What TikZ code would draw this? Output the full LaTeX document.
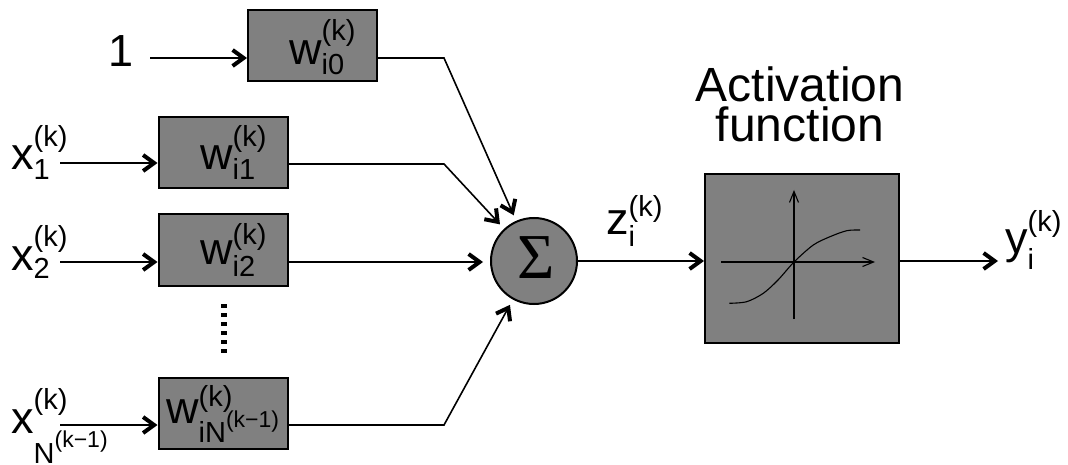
\documentclass[tikz,border=0pt]{standalone}
\usepackage{fontspec}
\setmainfont{Liberation Sans}
\newfontfamily\sigfont{Liberation Serif}
\usetikzlibrary{arrows.meta}
\newdimen\lblw
\newcommand\fA{\fontsize{45}{50}\selectfont}
\newcommand\fB{\fontsize{29}{32}\selectfont}
\newcommand\fC{\fontsize{23}{26}\selectfont}
% base, sub, sup, sub drop, sup raise
\newcommand\sublab[5]{\mbox{#1\setbox0\hbox{\fB #2}\setbox2\hbox{\fB #3}\lblw=\wd0 \ifdim\wd2>\lblw \lblw=\wd2 \fi\rlap{\lower#4pt\box0}\rlap{\raise#5pt\box2}\hspace{\lblw}}}
\begin{document}
\begin{tikzpicture}[x=1pt,y=-1pt,
  wbox/.style={draw=black,line width=2pt,fill=gray,minimum width=129pt,minimum height=71pt,inner sep=0pt},
  labeltext/.style={anchor=base west,inner sep=0pt,font=\fA},
  conn/.style={line width=1.6pt},
  arr/.style={conn,-{Straight Barb[length=11pt,width=16pt,line width=4pt]}},
  axis/.style={line width=1.1pt,-{Straight Barb[length=11pt,width=9pt,line width=1.1pt]}}]
\useasboundingbox (0,0) rectangle (1068,465);

% boxes
\node[wbox] (w0) at (312.5,45.5) {};
\node[wbox] (w1) at (223,152.5) {};
\node[wbox] (w2) at (223,250) {};
\node[wbox] (wN) at (223,413.5) {};
\node[draw=black,line width=2pt,fill=gray,circle,minimum size=86pt,inner sep=0pt] (sum) at (534,261) {};
\node[draw=black,line width=2pt,fill=gray,minimum width=194pt,minimum height=169pt,inner sep=0pt] (act) at (802,258.5) {};

% coordinates
\coordinate (s0) at (150,58);
\coordinate (s1) at (60,163);
\coordinate (s2) at (60,262);
\coordinate (sN) at (60,425);
\coordinate (b0) at (444,58);
\coordinate (b1) at (444,164);
\coordinate (bN) at (444,425);
\coordinate (yend) at (998,261);

% input arrows
\draw[arr] (s0) -- (s0 -| w0.west);
\draw[arr] (s1) -- (s1 -| w1.west);
\draw[arr] (s2) -- (s2 -| w2.west);
\draw[arr] (sN) -- (sN -| wN.west);

% to sum
\draw[arr,shorten >=6pt] (w0.east |- s0) -- (b0) -- (sum);
\draw[arr,shorten >=6pt] (w1.east |- b1) -- (b1) -- (sum);
\draw[arr,shorten >=7pt] (w2.east |- s2) -- (s2 -| sum.west);
\draw[arr,shorten >=6pt] (wN.east |- sN) -- (bN) -- (sum);

% output
\draw[arr] (sum.east) -- (sum.east -| act.west);
\draw[arr] (act.east |- sum.east) -- (yend);

% dots
\draw[line width=6pt,dash pattern=on 4pt off 5pt] (224,304) -- (224,357);

% activation plot
\draw[axis] (721,262) -- (875,262);
\draw[axis] (794,319) -- (794,190);
\draw[line width=1.1pt] plot[smooth] coordinates {(729.3,303.3) (746.7,301.7) (763.3,293.3) (778,280) (794.3,261.7) (813.3,245) (830,236.7) (846.7,230.7) (860,230)};

% sigma
\node[font=\sigfont\fontsize{64}{64}\selectfont,inner sep=0pt,anchor=base] (sig) at (536,278) {Σ};

% labels
\node[labeltext] (one) at (108,67) {1};
\node[labeltext] (x1) at (11,170) {\sublab{x}{1}{(k)}{10}{23}};
\node[labeltext] (x2) at (11,270) {\sublab{x}{2}{(k)}{8}{24}};
\node[labeltext] (xN) at (11,433) {\sublab{x}{N\raise16pt\hbox{\fC(k−1)}}{(k)}{30}{24}};
\node[labeltext] (tw0) at (289,65) {\sublab{w}{i0}{(k)}{10}{24}};
\node[labeltext] (tw1) at (200,170) {\sublab{w}{i1}{(k)}{10}{23}};
\node[labeltext] (tw2) at (200,264) {\sublab{w}{i2}{(k)}{13}{20}};
\node[labeltext] (twN) at (166,423) {\sublab{w}{iN\raise15pt\hbox{\fC(k−1)}}{(k)}{19}{17}};
\node[labeltext] (z) at (606,235) {\sublab{z}{i}{(k)}{12}{18}};
\node[labeltext] (y) at (1005,253) {\sublab{y}{i}{(k)}{17}{22}};

\node[anchor=base,inner sep=0pt,font=\fontsize{48}{48}\selectfont] (t1) at (800,102) {Activation};
\node[anchor=base,inner sep=0pt,font=\fontsize{48}{48}\selectfont] (t2) at (800,142) {function};
\end{tikzpicture}
\end{document}
